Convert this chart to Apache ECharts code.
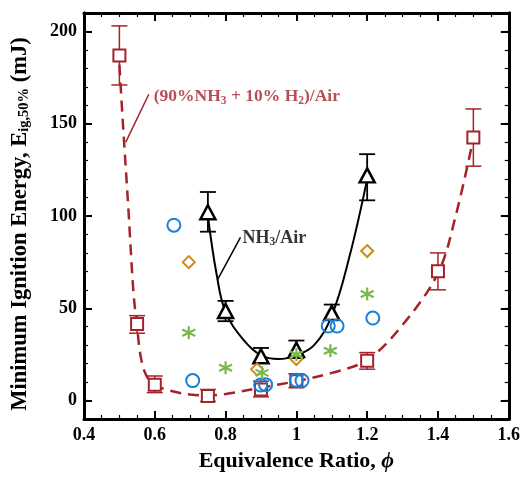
<!DOCTYPE html>
<html><head><meta charset="utf-8">
<script src="https://cdn.jsdelivr.net/npm/echarts@6/dist/echarts.min.js"></script>
<style>html,body{margin:0;padding:0;background:#fff}#c{width:523px;height:477px}</style>
</head><body><div id="c"></div>
<script>
// ---- tick labels ----
const phiTicks = [0.4, 0.6, 0.8, 1.0, 1.2, 1.4, 1.6];
const phiTickLabels = ['0.4', '0.6', '0.8', '1', '1.2', '1.4', '1.6'];
const energyTicks = [0, 50, 100, 150, 200];
const energyMinorTicks = [-10, 0, 10, 20, 30, 40, 50, 60, 70, 80, 90, 100, 110, 120, 130, 140, 150, 160, 170, 180, 190, 200, 210];

// ---- (90%NH3 + 10%H2)/Air measured ----
const blendPhi  = [0.5, 0.55, 0.6, 0.75, 0.9, 1.0, 1.2, 1.4, 1.5];
const blendE    = [187, 41.5, 8.5, 2.5, 6, 10.5, 21.5, 70, 142.5];
const blendLow  = [171, 36.5, 4.3, -0.5, 2, 7, 17, 60, 127];
const blendHigh = [203, 46, 13.3, 6, 10.5, 14.5, 26, 80, 158];
// dashed fit curve
const blendFitPhi = [0.5, 0.51, 0.525, 0.54, 0.55, 0.56, 0.575, 0.6, 0.65, 0.7, 0.75, 0.8, 0.9, 1.0, 1.1, 1.2, 1.3, 1.4, 1.45, 1.5];
const blendFitE   = [182, 150, 105, 58, 40, 24, 14, 8.5, 5, 3.3, 2.8, 3.5, 7, 10.5, 15, 22, 41, 69, 100, 142];

// ---- NH3/Air measured ----
const nh3Phi  = [0.75, 0.8, 0.9, 1.0, 1.1, 1.2];
const nh3E    = [102, 48.5, 24, 27.5, 47.5, 122];
const nh3Low  = [91.5, 43, 21, 23, 43.5, 108.5];
const nh3High = [113, 54, 28.5, 32.5, 52, 133.5];
// solid fit curve
const nh3FitPhi = [0.75, 0.775, 0.8, 0.85, 0.9, 0.95, 1.0, 1.05, 1.1, 1.15, 1.2];
const nh3FitE   = [100, 68, 48, 33, 24.5, 22.5, 24.5, 30, 46, 78, 120];

// ---- other data sets (no error bars) ----
const circlePhi = [0.654, 0.707, 0.899, 0.913, 1.0, 1.016, 1.09, 1.115, 1.216];
const circleE   = [95, 10.8, 8.4, 8.6, 11, 10.8, 40.4, 40.4, 44.7];
const diamondPhi = [0.696, 0.889, 1.0, 1.2];
const diamondE   = [75, 16.9, 22.5, 81];
const starPhi = [0.696, 0.8, 0.903, 1.0, 1.096, 1.2];
const starE   = [36.7, 17.8, 15, 25, 27, 57.7];

// ---- annotations (data coordinates) ----
const blendLabelAt = [0.597, 164.5];
const blendLeader = [[0.583, 166], [0.518, 140]];
const nh3LabelAt = [0.848, 88];
const nh3Leader = [[0.842, 88.4], [0.777, 65.4]];

const RED = '#a3232a', BLACK = '#000000', BLUE = '#1b7fd8', ORANGE = '#cf8a16', GREEN = '#7bb84c';
const FONT = 'Liberation Serif';

const zip = (a, b) => a.map((v, i) => [v, b[i]]);

function errorBars(phi, low, high, color, halfCap, lw) {
  return {
    type: 'custom', z: 3, silent: true,
    data: phi.map((p, i) => [p, low[i], high[i]]),
    encode: { x: 0, y: [1, 2] },
    renderItem: (params, api) => {
      const x = api.value(0);
      const a = api.coord([x, api.value(1)]);
      const b = api.coord([x, api.value(2)]);
      const st = { stroke: color, lineWidth: lw };
      return { type: 'group', children: [
        { type: 'line', shape: { x1: a[0], y1: a[1], x2: b[0], y2: b[1] }, style: st },
        { type: 'line', shape: { x1: a[0] - halfCap, y1: a[1], x2: a[0] + halfCap, y2: a[1] }, style: st },
        { type: 'line', shape: { x1: b[0] - halfCap, y1: b[1], x2: b[0] + halfCap, y2: b[1] }, style: st }
      ]};
    }
  };
}

const starPath = 'path://M0,-10 L0,10 M-8.66,-5 L8.66,5 M-8.66,5 L8.66,-5';

const axisFont = { fontFamily: FONT, fontWeight: 'bold', fontSize: 18, color: '#000' };

function xAx(pos, showLabel) {
  return {
    type: 'value', position: pos, min: 0.4, max: 1.6, interval: 0.2,
    axisLine: { show: true, onZero: false, lineStyle: { color: '#000', width: 3 } },
    axisTick: { show: true, inside: true, length: 8, lineStyle: { color: '#000', width: 2 } },
    minorTick: { show: true, splitNumber: 4, length: 4, lineStyle: { color: '#000', width: 1.2 } },
    splitLine: { show: false }, minorSplitLine: { show: false },
    axisLabel: showLabel ? Object.assign({ margin: 7, formatter: v => {
      const i = phiTicks.findIndex(t => Math.abs(t - v) < 1e-6); return i >= 0 ? phiTickLabels[i] : ''; } }, axisFont) : { show: false },
    name: showLabel ? 'Equivalence Ratio, {phi|ϕ}' : '',
    nameLocation: 'middle', nameGap: 31,
    nameTextStyle: { fontFamily: FONT, fontWeight: 'bold', fontSize: 22, color: '#000',
      rich: { phi: { fontFamily: FONT, fontWeight: 'bold', fontStyle: 'italic', fontSize: 22, color: '#000' } } }
  };
}
function yAx(pos, ticks, len, w, showLabel) {
  const o = {
    type: 'value', position: pos, min: -10, max: 210,
    axisLine: { show: true, onZero: false, lineStyle: { color: '#000', width: 3 } },
    axisTick: { show: true, inside: true, length: len, customValues: ticks, lineStyle: { color: '#000', width: w } },
    splitLine: { show: false },
    axisLabel: showLabel ? Object.assign({ margin: 7, customValues: ticks }, axisFont) : { show: false }
  };
  if (showLabel) {
    o.name = 'Minimum Ignition Energy, E{sub|ig,50%} (mJ)';
    o.nameLocation = 'middle';
    o.nameGap = 52;
    o.nameTextStyle = { fontFamily: FONT, fontWeight: 'bold', fontSize: 22.5, color: '#000', lineHeight: 24,
      padding: [0, 16, 0, 0],
      rich: { sub: { fontFamily: FONT, fontWeight: 'bold', fontSize: 14.5, color: '#000', verticalAlign: 'bottom', lineHeight: 16 } } };
  }
  return o;
}

const chart = echarts.init(document.getElementById('c'), null, { renderer: 'canvas' });
chart.setOption({
  animation: false,
  backgroundColor: '#fff',
  grid: { left: 83, right: 14, top: 13, bottom: 55, containLabel: false },
  xAxis: [xAx('bottom', true), xAx('top', false)],
  yAxis: [
    yAx('left', energyTicks, 8, 2, true),
    yAx('left', energyMinorTicks, 4, 1.2, false),
    yAx('right', energyTicks, 8, 2, false),
    yAx('right', energyMinorTicks, 4, 1.2, false)
  ],
  series: [
    { type: 'line', name: 'blendFit', data: zip(blendFitPhi, blendFitE), smooth: 0.35,
      showSymbol: false, symbol: 'none', z: 2, lineStyle: { color: RED, width: 2.5, type: [11, 7] } },
    { type: 'line', name: 'nh3Fit', data: zip(nh3FitPhi, nh3FitE), smooth: 0.4,
      showSymbol: false, symbol: 'none', z: 2, lineStyle: { color: BLACK, width: 2 } },
    errorBars(blendPhi, blendLow, blendHigh, RED, 8, 1.5),
    errorBars(nh3Phi, nh3Low, nh3High, BLACK, 8, 1.8),
    { type: 'scatter', name: 'blend', data: zip(blendPhi, blendE), symbol: 'rect', symbolSize: 12, z: 5,
      itemStyle: { color: '#fff', opacity: 1, borderColor: RED, borderWidth: 2 } },
    { type: 'scatter', name: 'nh3', data: zip(nh3Phi, nh3E), symbol: 'triangle', symbolSize: [15, 14], z: 5,
      itemStyle: { color: '#fff', opacity: 1, borderColor: BLACK, borderWidth: 2.5 } },
    { type: 'scatter', name: 'circles', data: zip(circlePhi, circleE), symbol: 'circle', symbolSize: 13, z: 6,
      itemStyle: { color: 'rgba(0,0,0,0)', opacity: 1, borderColor: BLUE, borderWidth: 2 } },
    { type: 'scatter', name: 'diamonds', data: zip(diamondPhi, diamondE), symbol: 'diamond', symbolSize: 12, z: 6,
      itemStyle: { color: 'rgba(0,0,0,0)', opacity: 1, borderColor: ORANGE, borderWidth: 2 } },
    { type: 'scatter', name: 'stars', data: zip(starPhi, starE), symbol: starPath, symbolSize: 13, z: 6,
      itemStyle: { color: 'rgba(0,0,0,0)', opacity: 1, borderColor: GREEN, borderWidth: 2.2 } },
    // leader lines
    { type: 'line', data: blendLeader, symbol: 'none', z: 4, lineStyle: { color: RED, width: 1.5 } },
    { type: 'line', data: nh3Leader, symbol: 'none', z: 4, lineStyle: { color: BLACK, width: 1.5 } },
    // annotation labels
    { type: 'scatter', data: [blendLabelAt], symbolSize: 0, z: 7, silent: true,
      label: { show: true, position: 'right', distance: 0,
        formatter: '(90%NH{s|3} + 10% H{s|2})/Air',
        fontFamily: FONT, fontWeight: 'bold', fontSize: 17.5, color: RED, lineHeight: 20,
        rich: { s: { fontFamily: FONT, fontWeight: 'bold', fontSize: 11.5, color: RED, verticalAlign: 'bottom', lineHeight: 13 } } } },
    { type: 'scatter', data: [nh3LabelAt], symbolSize: 0, z: 7, silent: true,
      label: { show: true, position: 'right', distance: 0,
        formatter: 'NH{s|3}/Air',
        fontFamily: FONT, fontWeight: 'bold', fontSize: 18, color: BLACK, lineHeight: 20,
        rich: { s: { fontFamily: FONT, fontWeight: 'bold', fontSize: 11.5, color: BLACK, verticalAlign: 'bottom', lineHeight: 13 } } } }
  ]
});
</script>
</body></html>
